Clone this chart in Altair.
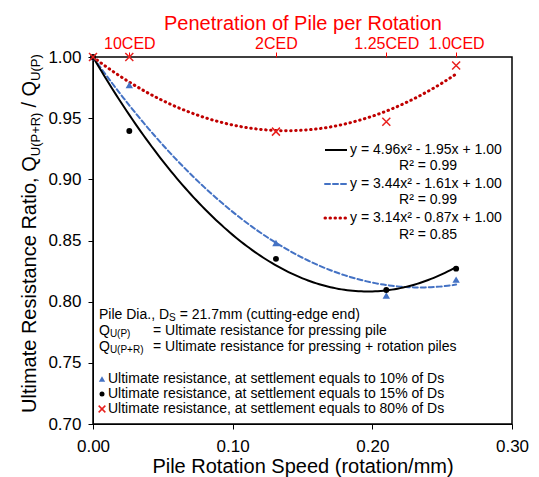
import altair as alt
import pandas as pd

# ---------------- data ----------------
x_speed = [0.0, 0.026, 0.131, 0.21, 0.26]
ratio_10pct = [1.0, 0.977, 0.848, 0.805, 0.818]   # blue triangles
ratio_15pct = [1.0, 0.9395, 0.835, 0.8095, 0.827]  # black dots
ratio_80pct = [1.0, 1.0, 0.939, 0.947, 0.993]     # red crosses
# trend-line coefficients printed on the chart (a, b, c of y = a x^2 + b x + c)
coef_15pct = [4.96, -1.95, 1.00]
coef_10pct = [3.44, -1.61, 1.00]
coef_80pct = [3.14, -0.87, 1.00]
x_ticks = [0.0, 0.1, 0.2, 0.3]
y_ticks = [0.70, 0.75, 0.80, 0.85, 0.90, 0.95, 1.00]
ced_positions = [0.026, 0.131, 0.21, 0.26]
ced_labels = ["10CED", "2CED", "1.25CED", "1.0CED"]
eq_texts = ["y = 4.96x\u00b2 - 1.95x + 1.00", "y = 3.44x\u00b2 - 1.61x + 1.00", "y = 3.14x\u00b2 - 0.87x + 1.00"]
r2_texts = ["R\u00b2 = 0.99", "R\u00b2 = 0.99", "R\u00b2 = 0.85"]
legend_texts = [
    "Ultimate resistance, at settlement equals to 10% of Ds",
    "Ultimate resistance, at settlement equals to 15% of Ds",
    "Ultimate resistance, at settlement equals to 80% of Ds",
]

BLUE = "#4472C4"
BLACK = "#000000"
DRED = "#C00000"
RED = "#E8201E"
FONT = "Liberation Sans"

rows = []
for s, ys in (("10", ratio_10pct), ("15", ratio_15pct), ("80", ratio_80pct)):
    for xv, yv in zip(x_speed, ys):
        rows.append({"x": xv, "y": yv, "series": s})
df = pd.DataFrame(rows)

# plot area geometry (pixels)
W_PLOT, H_PLOT = 419, 367
LEFT, TOP = 93, 57

xs = alt.Scale(domain=[0, 0.3], nice=False, zero=False)
ys = alt.Scale(domain=[0.7, 1.0], nice=False, zero=False)

# Arial / Liberation Sans advance widths (per 1000 em)
AW = {' ': 278, '!': 278, '%': 889, '(': 333, ')': 333, '+': 584, ',': 278, '-': 333, '.': 278, '/': 278,
      '=': 584, '\u00b2': 333}
for c in "0123456789":
    AW[c] = 556
AW.update(dict(zip("ABCDEFGHIJKLMNOPQRSTUVWXYZ",
                   [667, 667, 722, 722, 667, 611, 778, 722, 278, 500, 667, 556, 833, 722, 778, 667, 778, 722, 667, 611, 722, 667, 944, 667, 667, 611])))
AW.update(dict(zip("abcdefghijklmnopqrstuvwxyz",
                   [556, 556, 500, 556, 556, 278, 556, 556, 222, 222, 500, 222, 833, 556, 556, 556, 556, 333, 500, 278, 556, 500, 722, 500, 500, 500])))


def tw(s, size):
    return sum(AW.get(c, 556) for c in s) * size / 1000.0


dummy = pd.DataFrame({"a": [0]})


def text(x, y, s, size=14, color=BLACK, align="left", angle=0, baseline="middle"):
    kw = dict(text=s, fontSize=size, color=color, align=align, baseline=baseline, font=FONT)
    if angle:
        kw["angle"] = angle
    return alt.Chart(dummy).mark_text(**kw).encode(x=alt.value(x - LEFT), y=alt.value(y - TOP))


def rich_line(x0, y, pieces):
    """pieces: (text, size, baseline offset, gap before in px)"""
    out = []
    x = x0
    for s, size, dy, gap in pieces:
        x += gap
        out.append(text(x, y + dy, s, size))
        x += tw(s, size)
    return out


def rich_vertical(x, y0, pieces):
    out = []
    y = y0
    for s, size, dx, gap in pieces:
        y -= gap
        out.append(text(x + dx, y, s, size, angle=270))
        y -= tw(s, size)
    return out


# ---------------- trend lines (printed polynomial trend lines) ----------------
def trend(coef, color, dash, width):
    a, b, c = coef
    return alt.Chart(alt.sequence(0, max(x_speed) + 0.0001, 0.002, as_="x")).transform_calculate(
        y=f"{a}*datum.x*datum.x + ({b})*datum.x + {c}"
    ).mark_line(color=color, strokeDash=dash, strokeWidth=width, strokeCap="round" if dash else "butt").encode(
        x=alt.X("x:Q", scale=xs, axis=None), y=alt.Y("y:Q", scale=ys, axis=None)
    )


line15 = trend(coef_15pct, BLACK, [], 2)
line10 = trend(coef_10pct, BLUE, [5, 3], 2)
line80 = trend(coef_80pct, DRED, [0.5, 4.5], 3)

# ---------------- points ----------------
bottom_axis = alt.Axis(values=x_ticks, format=".2f", title="Pile Rotation Speed (rotation/mm)",
                       labelFontSize=17, titleFontSize=20, titleFontWeight="normal", tickSize=5,
                       labelPadding=9, titlePadding=2, grid=False, labelFlush=False, labelOverlap=False,
                       domainColor=BLACK, tickColor=BLACK, labelColor=BLACK, titleColor=BLACK,
                       labelFont=FONT, titleFont=FONT)
left_axis = alt.Axis(values=y_ticks, format=".2f", title=None, labelFontSize=17, tickSize=5,
                     labelPadding=7, grid=False, labelFlush=False, labelOverlap=False,
                     domainColor=BLACK, tickColor=BLACK, labelColor=BLACK, labelFont=FONT)
label_expr = " : ".join(f"datum.value == {p} ? '{l}'" for p, l in zip(ced_positions, ced_labels)) + " : ''"
top_axis = alt.Axis(orient="top", values=ced_positions, labelExpr=label_expr, labelColor="#FF0000",
                    tickColor="#FF0000", tickSize=5, domain=False, labelFontSize=16, labelPadding=1,
                    title="Penetration of Pile per Rotation", titleColor="#FF0000", titleFontSize=20,
                    titleFontWeight="normal", titlePadding=2, grid=False, labelFlush=False,
                    labelOverlap=False, labelFont=FONT, titleFont=FONT)

CROSS = "M-1,-1L1,1M-1,1L1,-1"

pts10 = alt.Chart(df).transform_filter(alt.datum.series == "10").mark_point(
    shape="triangle-up", filled=True, color=BLUE, size=55, opacity=1
).encode(x=alt.X("x:Q", scale=xs, axis=bottom_axis), y=alt.Y("y:Q", scale=ys, axis=left_axis))

pts15 = alt.Chart(df).transform_filter(alt.datum.series == "15").mark_point(
    shape="circle", filled=True, color=BLACK, size=35, opacity=1
).encode(x=alt.X("x:Q", scale=xs, axis=None), y=alt.Y("y:Q", scale=ys, axis=None))

pts80 = alt.Chart(df).transform_filter(alt.datum.series == "80").mark_point(
    shape=CROSS, filled=False, color=RED, size=64, strokeWidth=1.5, opacity=1
).encode(x=alt.X("x:Q", scale=xs, axis=top_axis), y=alt.Y("y:Q", scale=ys, axis=None))

# ---------------- annotations ----------------
ann = []
# y-axis title with subscripts
ann += rich_vertical(30, 413, [("Ultimate Resistance Ratio, Q", 20, 0, 0), ("U(P+R)", 13, 6, 0),
                               ("/ Q", 20, 0, 5), ("U(P)", 13, 6, 0)])

# equation legend
eq_y = [150, 184, 218]
r2_y = [166, 200, 235]
eq_style = [(BLACK, [], 2), (BLUE, [5, 3], 2), (DRED, [0.5, 4.5], 3)]
for (col, dash, wd), yy, e, r, ry in zip(eq_style, eq_y, eq_texts, r2_texts, r2_y):
    ann.append(alt.Chart(dummy).mark_rule(color=col, strokeDash=dash, strokeWidth=wd,
                                          strokeCap="round" if dash else "butt").encode(
        x=alt.value(325 - LEFT), x2=alt.value(347 - LEFT), y=alt.value(yy - TOP)))
    ann.append(text(350, yy, e, 14))
    ann.append(text(428, ry, r, 14, align="center"))

# description text
ann += rich_line(99, 315, [("Pile Dia., D", 14, 0, 0), ("S", 10, 3, 0), ("= 21.7mm (cutting-edge end)", 14, 0, 4)])
ann += rich_line(99, 331, [("Q", 14, 0, 0), ("U(P)", 10, 3, 0)])
ann.append(text(153, 331, "= Ultimate resistance for pressing pile", 14))
ann += rich_line(99, 347, [("Q", 14, 0, 0), ("U(P+R)", 10, 3, 0)])
ann.append(text(153, 347, "= Ultimate resistance for pressing + rotation piles", 14))

leg_y = [379, 394, 409]
ann.append(alt.Chart(dummy).mark_point(shape="triangle-up", filled=True, color=BLUE, size=40, opacity=1).encode(
    x=alt.value(102 - LEFT), y=alt.value(leg_y[0] - TOP)))
ann.append(alt.Chart(dummy).mark_point(shape="circle", filled=True, color=BLACK, size=25, opacity=1).encode(
    x=alt.value(102 - LEFT), y=alt.value(leg_y[1] - TOP)))
ann.append(alt.Chart(dummy).mark_point(shape=CROSS, filled=False, color=RED, size=45, strokeWidth=1.5,
                                       opacity=1).encode(x=alt.value(102 - LEFT), y=alt.value(leg_y[2] - TOP)))
for yy, t in zip(leg_y, legend_texts):
    ann.append(text(108, yy, t, 14))

chart = alt.layer(line80, line10, line15, pts10, pts15, pts80, *ann).resolve_axis(
    x="independent", y="independent"
).properties(
    width=W_PLOT, height=H_PLOT,
    autosize=alt.AutoSizeParams(type="none"),
    padding={"left": LEFT, "top": TOP, "right": 539 - LEFT - W_PLOT, "bottom": 477 - TOP - H_PLOT},
    background="white",
).configure(font=FONT).configure_view(stroke=BLACK, strokeWidth=1.5)

chart.save("out.html", embed_options={"renderer": "svg", "actions": False})
